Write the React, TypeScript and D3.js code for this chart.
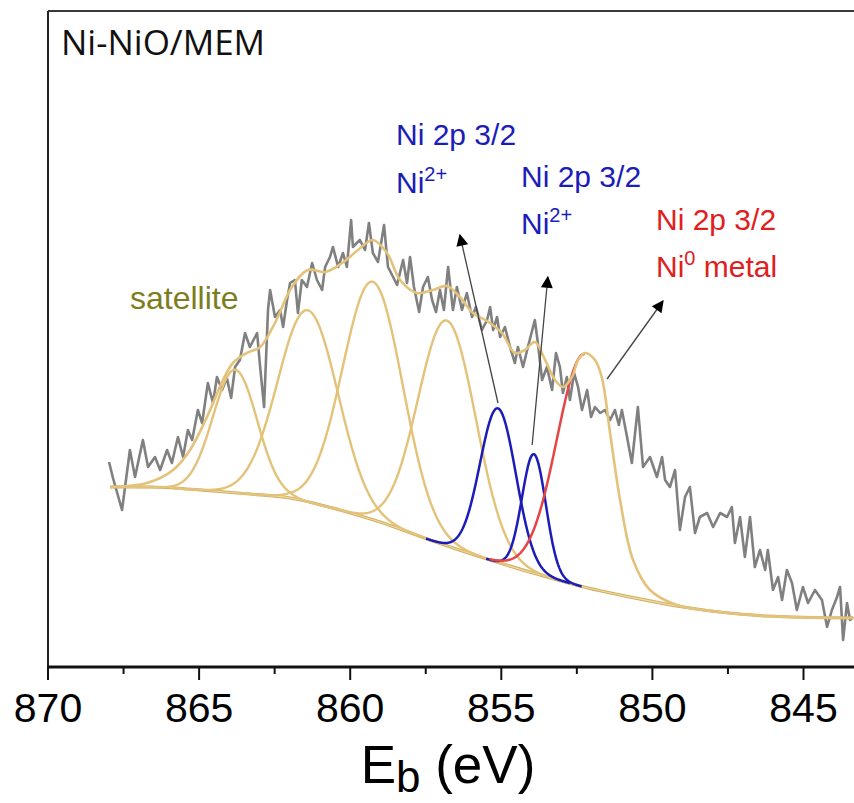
import React from "react";
import * as d3 from "d3";

// Raw XPS spectrum (binding energy in eV, intensity in a.u.)
const rawEnergy = [867.98, 867.85, 867.55, 867.29, 867.12, 866.86, 866.69, 866.46, 866.29, 866.06, 865.90, 865.70, 865.53, 865.37, 865.23, 865.04, 864.90, 864.71, 864.54, 864.41, 864.24, 864.08, 863.94, 863.81, 863.65, 863.48, 863.32, 863.08, 862.98, 862.85, 862.72, 862.65, 862.49, 862.32, 862.22, 862.09, 861.99, 861.83, 861.73, 861.60, 861.43, 861.26, 861.10, 860.93, 860.83, 860.67, 860.57, 860.40, 860.24, 860.11, 859.97, 859.91, 859.78, 859.68, 859.51, 859.38, 859.25, 859.08, 858.88, 858.75, 858.58, 858.45, 858.25, 858.12, 858.02, 857.89, 857.72, 857.59, 857.43, 857.29, 857.16, 857.03, 856.90, 856.76, 856.60, 856.47, 856.30, 856.14, 855.97, 855.84, 855.64, 855.47, 855.37, 855.27, 855.14, 855.04, 854.88, 854.71, 854.55, 854.45, 854.28, 854.12, 853.89, 853.79, 853.65, 853.49, 853.32, 853.19, 853.06, 852.96, 852.83, 852.73, 852.59, 852.46, 852.33, 852.16, 852.03, 851.90, 851.73, 851.57, 851.40, 851.24, 851.11, 851.01, 850.87, 850.68, 850.48, 850.31, 850.08, 849.85, 849.68, 849.58, 849.42, 849.25, 849.09, 848.92, 848.76, 848.59, 848.43, 848.19, 847.99, 847.76, 847.53, 847.37, 847.27, 847.10, 846.94, 846.77, 846.61, 846.44, 846.27, 846.18, 846.01, 845.84, 845.71, 845.55, 845.38, 845.22, 845.02, 844.85, 844.62, 844.39, 844.22, 844.06, 843.89, 843.79, 843.69, 843.56, 843.46, 843.36];
const rawCounts = [205, 189, 157, 217, 190, 227, 200, 210, 197, 217, 204, 230, 210, 237, 227, 257, 244, 284, 264, 290, 277, 289, 269, 300, 307, 334, 320, 334, 300, 260, 357, 377, 350, 357, 340, 367, 384, 387, 354, 387, 380, 404, 387, 377, 400, 410, 420, 400, 414, 400, 447, 420, 424, 427, 417, 444, 414, 405, 442, 400, 390, 382, 407, 384, 410, 380, 355, 380, 390, 367, 355, 377, 357, 400, 357, 380, 357, 374, 350, 360, 337, 347, 360, 337, 350, 330, 340, 320, 304, 320, 300, 320, 347, 324, 287, 300, 277, 314, 300, 274, 290, 267, 294, 280, 257, 277, 250, 260, 254, 257, 247, 257, 242, 257, 235, 204, 260, 200, 210, 190, 210, 187, 180, 197, 137, 170, 180, 134, 150, 154, 140, 154, 150, 160, 124, 150, 110, 150, 100, 117, 97, 117, 77, 90, 67, 97, 84, 57, 80, 64, 77, 67, 40, 57, 70, 80, 27, 64, 47, 50];

// Shirley background
const bgEnergy = [867.95, 866.62, 864.97, 863.32, 861.99, 860.34, 859.01, 857.36, 855.37, 853.72, 852.40, 850.74, 848.99, 846.21, 843.36];
const bgCounts = [180, 180, 177, 173, 169, 157, 145, 127, 107, 92, 81, 70, 60, 51, 49];

// Fit envelope
const envEnergy = [867.95, 866.72, 865.86, 865.30, 864.74, 864.21, 863.88, 863.42, 862.98, 862.49, 861.93, 861.40, 860.83, 860.27, 859.74, 859.25, 858.78, 858.35, 857.79, 857.26, 856.80, 856.37, 855.94, 855.47, 854.98, 854.55, 854.22, 853.89, 853.55, 853.22, 852.96, 852.66, 852.46, 852.23, 851.90, 851.67, 851.40, 851.07, 850.64, 850.08, 849.19, 847.76, 846.21, 843.36];
const envCounts = [180, 184, 197, 217, 250, 287, 304, 314, 320, 344, 380, 397, 395, 404, 417, 427, 414, 387, 374, 377, 381, 370, 354, 346, 334, 314, 317, 325, 307, 287, 280, 290, 307, 314, 307, 289, 234, 167, 107, 77, 62, 55, 51, 49];

// Fitted components (centre eV, height above background, FWHM eV)
const peakCenter = [863.81, 861.40, 859.25, 856.80, 855.11, 853.92, 852.23];
const peakHeight = [123, 192, 238, 225, 154, 119, 233];
const peakFwhm = [1.72, 2.34, 2.34, 2.26, 1.40, 0.93, 2.18];
const peakState = ["satellite", "satellite", "satellite", "satellite", "Ni2+", "Ni2+", "Ni0"];

const xTicks = [870, 865, 860, 855, 850, 845];
const xMinorTicks = [867.5, 862.5, 857.5, 852.5, 847.5];

// annotation arrows: from (E, I) to (E, I)
const arrowFromE = [855.11, 853.98, 851.50];
const arrowFromI = [264, 222, 288];
const arrowToE = [856.37, 853.46, 849.65];
const arrowToI = [432, 390, 366];

const W = 854;
const H = 803;
const left = 48;
const top = 11;
const bottom = 667;

const YELLOW = "#e3c27a";
const BLUE = "#1c1cb8";
const RED = "#e64545";
const GRAY = "#808080";

export default function App() {
  const x = d3.scaleLinear().domain([870, 845]).range([left, 803.5]);
  const y = d3.scaleLinear().domain([0, 656]).range([bottom, top]);
  const bg = d3.scaleLinear().domain(bgEnergy).range(bgCounts).clamp(true);

  const line = d3
    .line<[number, number]>()
    .x((d) => x(d[0]))
    .y((d) => y(d[1]));
  const smooth = d3
    .line<[number, number]>()
    .x((d) => x(d[0]))
    .y((d) => y(d[1]))
    .curve(d3.curveCatmullRom.alpha(0.5));

  const raw: [number, number][] = rawEnergy.map((e, i) => [e, rawCounts[i]]);
  const bgPts: [number, number][] = bgEnergy.map((e, i) => [e, bgCounts[i]]);
  const envPts: [number, number][] = envEnergy.map((e, i) => [e, envCounts[i]]);

  const eMax = bgEnergy[0];
  const eMin = bgEnergy[bgEnergy.length - 1];
  const comp = (k: number, span: number, onlyHighSide: boolean) => {
    const c = peakCenter[k];
    const f = peakFwhm[k];
    const hi = Math.min(eMax, c + span * f);
    const lo = onlyHighSide ? c : Math.max(eMin, c - span * f);
    const pts: [number, number][] = [];
    for (let e = hi; e >= lo - 1e-9; e -= 0.02) {
      const g = peakHeight[k] * Math.exp((-4 * Math.LN2 * (e - c) * (e - c)) / (f * f));
      pts.push([e, bg(e) + g]);
    }
    return line(pts) || "";
  };

  const bgPath =
    d3
      .line<[number, number]>()
      .x((d) => x(d[0]))
      .y((d) => y(d[1]))
      .curve(d3.curveMonotoneX)(bgPts) || "";

  const labelFont = "'Liberation Sans', Arial, sans-serif";

  return (
    <svg width={W} height={H} style={{ position: "absolute", left: 0, top: 0, background: "#fff" }}>
      <defs>
        <marker id="ah" viewBox="0 0 10 10" refX="9" refY="5" markerWidth="16" markerHeight="12" markerUnits="userSpaceOnUse" orient="auto">
          <path d="M0,0 L10,5 L0,10 Z" fill="#000" />
        </marker>
      </defs>

      {/* frame */}
      <line x1={left} x2={W + 5} y1={top} y2={top} stroke="#3a3a3a" strokeWidth={2} />
      <line x1={left} x2={left} y1={top} y2={bottom} stroke="#222" strokeWidth={2} />

      {/* raw data */}
      <path d={line(raw) || ""} fill="none" stroke={GRAY} strokeWidth={2.6} strokeLinejoin="round" />

      {/* background */}
      <path d={bgPath} fill="none" stroke="#cfae62" strokeWidth={3.2} />
      <path d={bgPath} fill="none" stroke="#f3dca2" strokeWidth={1.2} />

      {/* satellite components */}
      {peakState.map((s, k) =>
        s === "satellite" ? (
          <path key={"c" + k} d={comp(k, 1.9, false)} fill="none" stroke={YELLOW} strokeWidth={2.4} />
        ) : null
      )}
      {/* Ni2+ components */}
      {peakState.map((s, k) =>
        s === "Ni2+" ? (
          <path key={"b" + k} d={comp(k, 1.7, false)} fill="none" stroke={BLUE} strokeWidth={2.5} />
        ) : null
      )}
      {/* Ni0 component */}
      {peakState.map((s, k) =>
        s === "Ni0" ? (
          <path key={"r" + k} d={comp(k, 1.45, true)} fill="none" stroke={RED} strokeWidth={2.5} />
        ) : null
      )}

      {/* envelope */}
      <path d={smooth(envPts) || ""} fill="none" stroke={YELLOW} strokeWidth={2.6} />

      {/* arrows */}
      {arrowFromE.map((e, i) => (
        <line
          key={"a" + i}
          x1={x(e)}
          y1={y(arrowFromI[i])}
          x2={x(arrowToE[i])}
          y2={y(arrowToI[i])}
          stroke="#444"
          strokeWidth={1.3}
          markerEnd="url(#ah)"
        />
      ))}

      {/* bottom axis */}
      <line x1={left - 1} x2={W + 5} y1={bottom} y2={bottom} stroke="#111" strokeWidth={3} />
      {xTicks.map((t) => (
        <g key={"t" + t}>
          <line x1={x(t)} x2={x(t)} y1={bottom} y2={bottom + 13} stroke="#111" strokeWidth={2} />
          <text x={x(t)} y={722} textAnchor="middle" fontFamily={labelFont} fontSize={41} fill="#000">
            {t}
          </text>
        </g>
      ))}
      {xMinorTicks.map((t) => (
        <line key={"m" + t} x1={x(t)} x2={x(t)} y1={bottom} y2={bottom + 7} stroke="#111" strokeWidth={2} />
      ))}
      <text x={448} y={783} textAnchor="middle" fontFamily={labelFont} fontSize={53} fill="#000">
        E
        <tspan fontSize={44} dy={9}>b</tspan>
        <tspan dy={-9}> (eV)</tspan>
      </text>

      {/* labels */}
      <text x={61} y={55} fontFamily="'Open Sans', sans-serif" fontSize={35} fill="#111">
        Ni-NiO/MEM
      </text>
      <text x={130} y={309} fontFamily={labelFont} fontSize={32} fill="#7d7d1e">
        satellite
      </text>

      <text x={396} y={145} fontFamily={labelFont} fontSize={30} fill={BLUE}>
        Ni 2p 3/2
      </text>
      <text x={396} y={193} fontFamily={labelFont} fontSize={30} fill={BLUE}>
        Ni<tspan fontSize={20} dy={-12}>2+</tspan>
      </text>

      <text x={521} y={187} fontFamily={labelFont} fontSize={30} fill={BLUE}>
        Ni 2p 3/2
      </text>
      <text x={521} y={234} fontFamily={labelFont} fontSize={30} fill={BLUE}>
        Ni<tspan fontSize={20} dy={-12}>2+</tspan>
      </text>

      <text x={656} y={230} fontFamily={labelFont} fontSize={30} fill="#e02020">
        Ni 2p 3/2
      </text>
      <text x={656} y={277} fontFamily={labelFont} fontSize={30} fill="#e02020">
        Ni<tspan fontSize={20} dy={-12}>0</tspan>
        <tspan dy={12}> metal</tspan>
      </text>
    </svg>
  );
}
